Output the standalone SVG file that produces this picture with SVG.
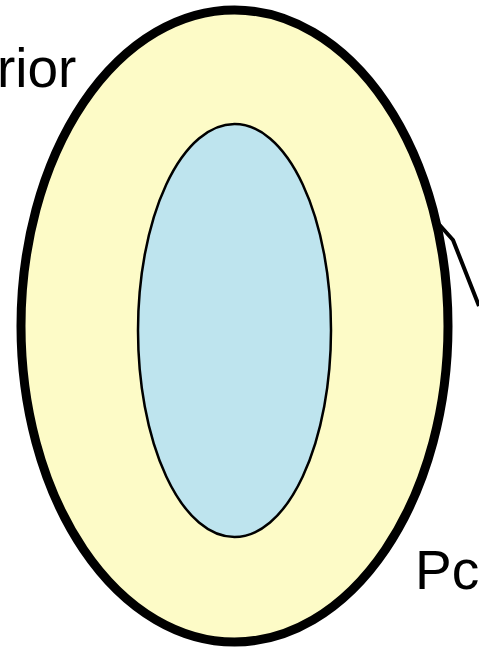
<svg xmlns="http://www.w3.org/2000/svg" width="479" height="650" viewBox="0 0 479 650">
<style>
.lbl{font-family:"Liberation Sans",Arial,sans-serif;font-size:55px;fill:#000;}
</style>
<rect width="479" height="650" fill="#ffffff"/>
<g id="connectors">
<path d="M436,221 L453,240 L479,306" fill="none" stroke="#000" stroke-width="4" stroke-linejoin="round"/>
</g>
<g id="outer">
<ellipse cx="234.5" cy="326" rx="213.5" ry="316" fill="#fdfbc7" stroke="#000" stroke-width="9"/>
</g>
<g id="inner">
<ellipse cx="234.5" cy="330.5" rx="96.5" ry="206.5" fill="#bee4ee" stroke="#000" stroke-width="2.5"/>
</g>
<g id="labels">
<text class="lbl" x="-3" y="87">rior</text>
<text class="lbl" x="415" y="589">Pc</text>
</g>
</svg>
